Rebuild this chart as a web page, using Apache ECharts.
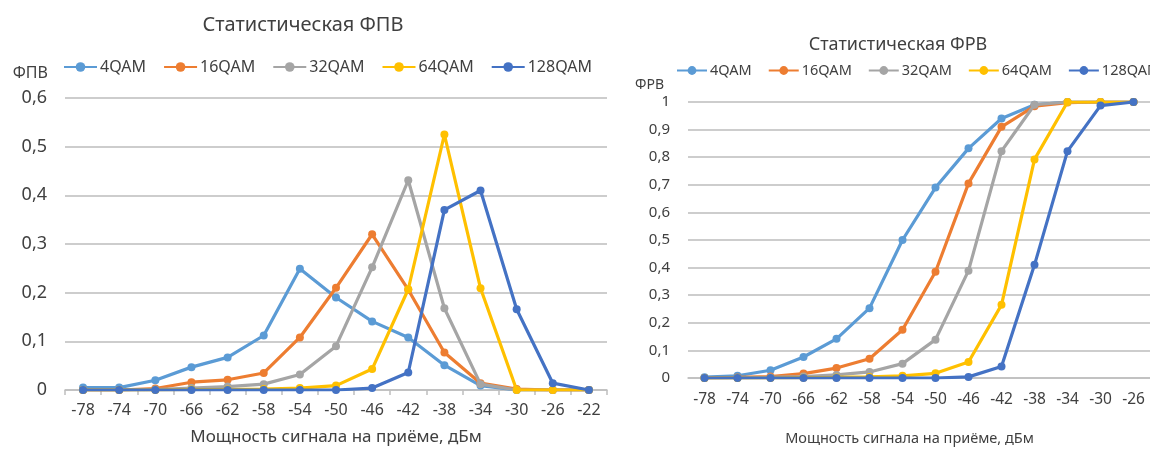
<!DOCTYPE html>
<html><head><meta charset="utf-8">
<script src="https://cdn.jsdelivr.net/npm/echarts@6/dist/echarts.min.js"></script>
<style>html,body{margin:0;padding:0;background:#fff}#c{width:1150px;height:451px}</style>
</head><body><div id="c"></div>
<script>
const seriesNames = ['4QAM','16QAM','32QAM','64QAM','128QAM'];
const colors = ['#5B9BD5','#ED7D31','#A5A5A5','#FFC000','#4472C4'];

// Left chart: Статистическая ФПВ
const pdfCategories = ['-78','-74','-70','-66','-62','-58','-54','-50','-46','-42','-38','-34','-30','-26','-22'];
const pdf4QAM   = [0.005,0.005,0.02,0.047,0.067,0.112,0.249,0.19,0.141,0.108,0.051,0.009,0,0,0];
const pdf16QAM  = [0,0,0.003,0.016,0.021,0.035,0.108,0.21,0.32,0.206,0.077,0.014,0.002,0,0];
const pdf32QAM  = [0,0,0.001,0.004,0.007,0.012,0.032,0.09,0.252,0.431,0.168,0.012,0,0,0];
const pdf64QAM  = [0,0,0,0.001,0.001,0.002,0.004,0.009,0.043,0.207,0.525,0.209,0,0,0];
const pdf128QAM = [0,0,0,0,0,0,0,0,0.004,0.036,0.37,0.41,0.166,0.014,0];

// Right chart: Статистическая ФРВ
const cdfCategories = ['-78','-74','-70','-66','-62','-58','-54','-50','-46','-42','-38','-34','-30','-26'];
const cdf4QAM   = [0.003,0.008,0.028,0.076,0.142,0.253,0.5,0.69,0.832,0.94,0.99,1,1,1];
const cdf16QAM  = [0,0.002,0.005,0.016,0.036,0.07,0.175,0.385,0.705,0.91,0.985,0.998,1,1];
const cdf32QAM  = [0,0,0.002,0.005,0.011,0.022,0.052,0.139,0.389,0.822,0.99,1,1,1];
const cdf64QAM  = [0,0,0,0.001,0.002,0.004,0.008,0.017,0.058,0.265,0.792,1,1,1];
const cdf128QAM = [0,0,0,0,0,0,0,0,0.004,0.042,0.41,0.822,0.987,1];

const pdfData = [pdf4QAM,pdf16QAM,pdf32QAM,pdf64QAM,pdf128QAM];
const cdfData = [cdf4QAM,cdf16QAM,cdf32QAM,cdf64QAM,cdf128QAM];

const FONT = 'Noto Sans';
const TXT = '#404040';
const fmt = v => String(v).replace('.', ',');

const series = [];
pdfData.forEach((d,i)=>series.push({
  name: seriesNames[i], type:'line', xAxisIndex:0, yAxisIndex:0, data:d,
  symbol:'circle', symbolSize:8, color:colors[i], lineStyle:{width:3.2}, z:2+i, animation:false
}));
cdfData.forEach((d,i)=>series.push({
  name: seriesNames[i], type:'line', xAxisIndex:1, yAxisIndex:1, data:d,
  symbol:'circle', symbolSize:8, color:colors[i], lineStyle:{width:3.2}, z:2+i, animation:false
}));

const chart = echarts.init(document.getElementById('c'), null, {renderer:'canvas'});
chart.setOption({
  animation:false,
  textStyle:{fontFamily:FONT},
  title:[
    {text:'Статистическая ФПВ', left:298, top:10, textAlign:'center', textStyle:{fontFamily:FONT,fontSize:20,fontWeight:'normal',color:TXT}},
    {text:'Статистическая ФРВ', left:893, top:31, textAlign:'center', textStyle:{fontFamily:FONT,fontSize:18,fontWeight:'normal',color:TXT}}
  ],
  legend:[
    {data:seriesNames, left:63, top:59, padding:0, width:560, itemWidth:33, itemHeight:12, itemGap:17,
     textStyle:{fontFamily:FONT,fontSize:16,color:TXT,padding:[0,0,0,-2]},
     selectedMode:false},
    {data:seriesNames, left:676, top:63, padding:0, width:600, itemWidth:30, itemHeight:11, itemGap:16,
     textStyle:{fontFamily:FONT,fontSize:14.5,color:TXT,padding:[0,0,0,-2]},
     selectedMode:false}
  ],
  grid:[
    {left:65, right:543, top:98, bottom:59},
    {left:688, right:-7, top:102, bottom:72}
  ],
  xAxis:[
    {type:'category', gridIndex:0, data:pdfCategories, boundaryGap:true,
     axisLine:{lineStyle:{color:'#BFBFBF',width:1.5}},
     axisTick:{show:true,length:5,lineStyle:{color:'#BFBFBF',width:1.5}},
     axisLabel:{color:TXT,fontSize:16,margin:12,fontFamily:FONT,interval:0},
     name:'Мощность сигнала на приёме, дБм', nameLocation:'middle', nameGap:39,
     nameTextStyle:{color:TXT,fontSize:17,fontFamily:FONT}},
    {type:'category', gridIndex:1, data:cdfCategories, boundaryGap:true,
     axisLine:{lineStyle:{color:'#BFBFBF',width:1.5}},
     axisTick:{show:false},
     axisLabel:{color:TXT,fontSize:15.5,margin:14,fontFamily:FONT,interval:0},
     name:'Мощность сигнала на приёме, дБм', nameLocation:'middle', nameGap:53,
     nameTextStyle:{color:TXT,fontSize:14.5,fontFamily:FONT,padding:[0,19,0,0]}}
  ],
  yAxis:[
    {type:'value', gridIndex:0, min:0, max:0.6, interval:0.1,
     axisLine:{show:false}, axisTick:{show:false},
     splitLine:{lineStyle:{color:'#CDCDCD',width:2}},
     axisLabel:{color:TXT,fontSize:18,margin:18,fontFamily:FONT,formatter:fmt},
     name:'ФПВ', nameLocation:'end', nameGap:25,
     nameTextStyle:{color:TXT,fontSize:16,fontFamily:FONT,align:'right',verticalAlign:'middle',padding:[0,17,0,0]}},
    {type:'value', gridIndex:1, min:0, max:1, interval:0.1,
     axisLine:{show:false}, axisTick:{show:false},
     splitLine:{lineStyle:{color:'#CDCDCD',width:2}},
     axisLabel:{color:TXT,fontSize:15,margin:18,fontFamily:FONT,formatter:fmt},
     name:'ФРВ', nameLocation:'end', nameGap:17,
     nameTextStyle:{color:TXT,fontSize:14,fontFamily:FONT,align:'right',verticalAlign:'middle',padding:[0,24,0,0]}}
  ],
  series:series
});
</script>
</body></html>
